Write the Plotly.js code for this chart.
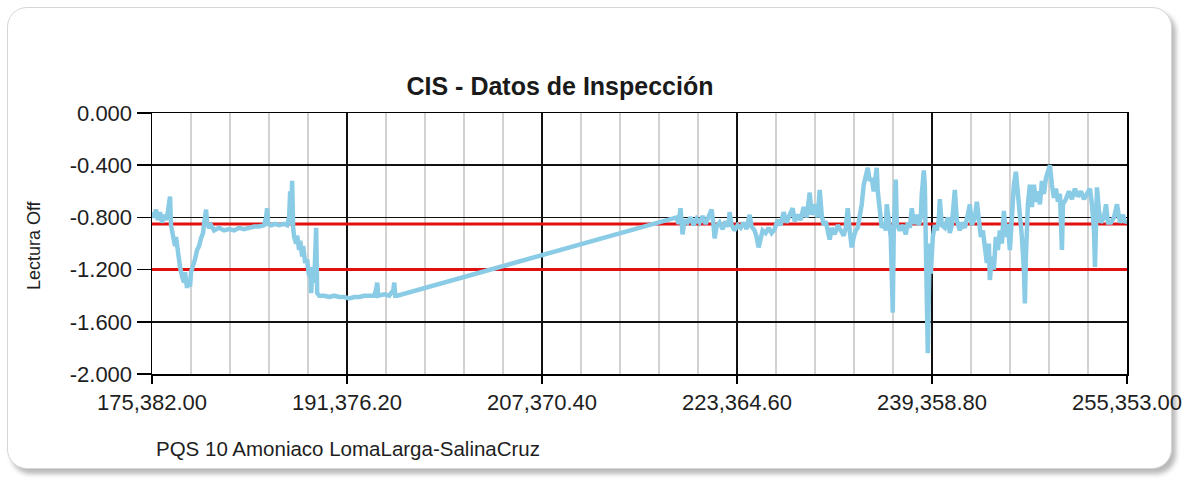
<!DOCTYPE html>
<html>
<head>
<meta charset="utf-8">
<script src="https://cdn.plot.ly/plotly-3.0.1.min.js"></script>
<style>
  html, body { margin: 0; padding: 0; background: #ffffff; }
  #frame {
    position: absolute; left: 7px; top: 7px; width: 1163px; height: 460px;
    border: 1px solid #d6d6d6; border-radius: 20px;
    box-shadow: 4px 5px 5px rgba(0,0,0,0.28);
    background: #ffffff;
  }
  #chart { position: absolute; left: 0; top: 0; width: 1193px; height: 482px; }
</style>
</head>
<body>
<div id="frame"></div>
<div id="chart"></div>
<script>
// ---- Data ----
const chartTitle = "CIS - Datos de Inspección";
const yAxisLabel = "Lectura Off";
const pipelineName = "PQS 10 Amoniaco LomaLarga-SalinaCruz";

const xTickVals = [175382.00, 191376.20, 207370.40, 223364.60, 239358.80, 255353.00];
const xTickText = ["175,382.00", "191,376.20", "207,370.40", "223,364.60", "239,358.80", "255,353.00"];
const yTickVals = [0, -0.4, -0.8, -1.2, -1.6, -2.0];
const yTickText = ["0.000", "-0.400", "-0.800", "-1.200", "-1.600", "-2.000"];

const criteriaLevels = [-0.85, -1.2];

const distance = [
  175382, 175546, 175710, 175875, 176039, 176203, 176367, 176531, 176696, 176860,
  176942, 177106, 177270, 177353, 177517, 177681, 177845, 178009, 178091, 178256,
  178338, 178502, 178584, 178748, 178913, 179077, 179241, 179405, 179569, 179652,
  179816, 179898, 180062, 180226, 180473, 180883, 181294, 181704, 182115, 182525,
  182936, 183346, 183757, 184167, 184578, 184742, 184824, 184906, 185153, 185481,
  185809, 186220, 186466, 186631, 186713, 186795, 186877, 186959, 187041, 187205,
  187287, 187452, 187534, 187698, 187780, 187944, 188108, 188191, 188273, 188355,
  188437, 188519, 188683, 188765, 188847, 188929, 189094, 189504, 189915, 190325,
  190736, 191146, 191557, 191967, 192378, 192788, 193199, 193610, 193774, 193856,
  193938, 194431, 194841, 195171, 195252, 195334, 195498,
  218406, 218570, 218734, 218898, 219062, 219309, 219555, 219801, 220048, 220294,
  220540, 220787, 221033, 221279, 221443, 221526, 221690, 221936, 222182, 222429,
  222675, 222757, 222921, 223168, 223414, 223660, 223907, 224153, 224399, 224563,
  224810, 224974, 225138, 225302, 225467, 225713, 225959, 226206, 226452, 226698,
  226945, 227191, 227437, 227684, 227930, 228094, 228340, 228587, 228833, 229079,
  229326, 229490, 229736, 229983, 230147, 230311, 230475, 230639, 230804, 230968,
  231132, 231378, 231625, 231871, 232117, 232282, 232446, 232610, 232774, 232938,
  233103, 233267, 233431, 233595, 233759, 233924, 234088, 234252, 234416, 234580,
  234745, 234827, 234909, 235073, 235237, 235402, 235566, 235648, 235812, 235976,
  236140, 236223, 236387, 236469, 236715, 236962, 237208, 237372, 237536, 237700,
  237865, 238111, 238275, 238439, 238522, 238686, 238768, 238850, 238932, 239014,
  239096, 239178, 239261, 239425, 239589, 239753, 239917, 239999, 240164, 240410,
  240656, 240821, 240985, 241231, 241395, 241642, 241806, 242052, 242298, 242463,
  242627, 242873, 243037, 243202, 243366, 243530, 243694, 243858, 244023, 244105,
  244269, 244433, 244597, 244762, 244926, 245090, 245254, 245418, 245583, 245747,
  245911, 246075, 246239, 246404, 246568, 246732, 246896, 246978, 247061, 247225,
  247389, 247553, 247717, 247882, 248046, 248210, 248374, 248538, 248703, 248867,
  249031, 249195, 249360, 249524, 249688, 249852, 250016, 250099, 250345, 250591,
  250837, 251084, 251330, 251576, 251823, 252069, 252315, 252480, 252644, 252726,
  252808, 252890, 253054, 253219, 253465, 253629, 253793, 254040, 254286, 254532,
  254779, 255025, 255189, 255353
];

const lecturaOff = [
  -0.76, -0.80, -0.74, -0.82, -0.76, -0.84, -0.78, -0.82, -0.75, -0.64,
  -0.86, -0.95, -1.02, -0.95, -1.10, -1.18, -1.25, -1.30, -1.22, -1.34,
  -1.28, -1.33, -1.22, -1.18, -1.12, -1.05, -1.02, -0.96, -0.92, -0.85,
  -0.74, -0.84, -0.88, -0.86, -0.90, -0.88, -0.90, -0.89, -0.90, -0.88,
  -0.89, -0.88, -0.87, -0.87, -0.86, -0.80, -0.73, -0.85, -0.86, -0.85,
  -0.86, -0.85, -0.86, -0.80, -0.60, -0.86, -0.52, -0.88, -0.95, -1.00,
  -0.94, -1.05, -0.98, -1.10, -1.02, -1.15, -1.12, -1.20, -1.25, -1.18,
  -1.38, -1.22, -1.30, -1.10, -0.88, -1.38, -1.40, -1.40, -1.41, -1.40,
  -1.41, -1.41, -1.42, -1.41, -1.41, -1.40, -1.40, -1.40, -1.35, -1.30,
  -1.40, -1.39, -1.40, -1.36, -1.30, -1.40, -1.40,
  -0.80, -0.85, -0.73, -0.93, -0.82, -0.84, -0.80, -0.86, -0.81, -0.84,
  -0.79, -0.85, -0.80, -0.74, -0.86, -0.96, -0.87, -0.84, -0.89, -0.83,
  -0.87, -0.76, -0.86, -0.90, -0.86, -0.88, -0.84, -0.89, -0.78, -0.87,
  -0.90, -0.95, -1.03, -0.96, -0.90, -0.92, -0.88, -0.92, -0.89, -0.82,
  -0.86, -0.76, -0.84, -0.78, -0.73, -0.83, -0.78, -0.82, -0.72, -0.80,
  -0.61, -0.78, -0.70, -0.80, -0.59, -0.78, -0.86, -0.83, -0.92, -0.97,
  -0.88, -0.93, -0.86, -0.90, -0.94, -0.88, -0.73, -0.90, -1.03, -0.95,
  -0.90, -0.88, -0.80, -0.70, -0.55, -0.48, -0.42, -0.52, -0.50, -0.60,
  -0.44, -0.42, -0.60, -0.75, -0.88, -0.84, -0.90, -0.70, -0.86, -0.95,
  -1.53, -0.90, -0.51, -0.85, -0.90, -0.86, -0.93, -0.84, -0.88, -0.73,
  -0.85, -0.78, -0.86, -0.80, -0.62, -0.44, -0.55, -0.90, -1.10, -1.84,
  -1.40, -1.00, -1.23, -0.95, -0.86, -0.90, -0.82, -0.66, -0.86, -0.88,
  -0.80, -0.92, -0.86, -0.59, -0.82, -0.90, -0.84, -0.88, -0.78, -0.70,
  -0.86, -0.80, -0.68, -0.85, -0.95, -0.90, -1.05, -1.15, -1.00, -1.28,
  -1.10, -1.20, -0.95, -1.05, -0.90, -1.00, -0.75, -0.95, -0.85, -1.05,
  -0.80, -0.55, -0.45, -0.60, -0.80, -0.95, -1.20, -1.46, -1.10, -0.70,
  -0.55, -0.72, -0.55, -0.68, -0.60, -0.70, -0.52, -0.62, -0.50, -0.45,
  -0.40, -0.55, -0.65, -0.58, -0.68, -0.62, -1.05, -0.70, -0.66, -0.60,
  -0.66, -0.58, -0.64, -0.60, -0.66, -0.62, -0.58, -0.70, -0.90, -1.18,
  -0.80, -0.57, -0.75, -0.84, -0.80, -0.70, -0.84, -0.84, -0.80, -0.70,
  -0.84, -0.78, -0.84, -0.82
];

// ---- Chart ----
const FONT = "Liberation Sans, Arial, Helvetica, sans-serif";
const xStart = xTickVals[0], xEnd = xTickVals[xTickVals.length - 1];

const traces = criteriaLevels.map(v => ({
  type: "scatter", mode: "lines",
  x: [xStart, xEnd], y: [v, v],
  line: { color: "#e01010", width: 3 },
  hoverinfo: "skip", showlegend: false
}));
traces.push({
  type: "scatter", mode: "lines",
  x: distance, y: lecturaOff,
  line: { color: "#8acbe6", width: 4.5 },
  showlegend: false
});

const layout = {
  width: 1193, height: 482,
  margin: { l: 152, r: 66, t: 113, b: 108, pad: 0 },
  paper_bgcolor: "rgba(0,0,0,0)",
  plot_bgcolor: "#ffffff",
  font: { family: FONT, color: "#1e1e1e" },
  showlegend: false,
  title: {
    text: chartTitle,
    font: { family: FONT, size: 25, weight: "bold", color: "#1a1a1a" },
    xref: "container", yref: "container",
    x: 0.4694, xanchor: "center",
    y: 0.822, yanchor: "middle"
  },
  xaxis: {
    range: [xStart, xEnd],
    tickmode: "array", tickvals: xTickVals, ticktext: xTickText,
    ticks: "outside", ticklen: 8, tickwidth: 1.5, tickcolor: "#000",
    tickfont: { family: FONT, size: 22, color: "#1e1e1e" },
    showgrid: true, gridcolor: "#111", gridwidth: 1.5,
    minor: { dtick: (xTickVals[1] - xTickVals[0]) / 5, tick0: xStart, showgrid: true, gridcolor: "#d2d2d2", gridwidth: 1.2, ticks: "" },
    showline: true, linecolor: "#000", linewidth: 1.5, mirror: true,
    zeroline: false, fixedrange: true
  },
  yaxis: {
    range: [-2, 0],
    tickmode: "array", tickvals: yTickVals, ticktext: yTickText,
    ticks: "outside", ticklen: 14, tickwidth: 1.5, tickcolor: "#000",
    tickfont: { family: FONT, size: 22, color: "#1e1e1e" },
    showgrid: true, gridcolor: "#111", gridwidth: 1.5,
    showline: true, linecolor: "#000", linewidth: 1.5, mirror: true,
    zeroline: false, fixedrange: true
  },
  annotations: [
    {
      text: yAxisLabel, textangle: -90,
      xref: "paper", yref: "paper", x: -0.121, y: 0.494,
      xanchor: "center", yanchor: "middle", showarrow: false,
      font: { family: FONT, size: 18, color: "#1e1e1e" }
    },
    {
      text: pipelineName,
      xref: "paper", yref: "paper", x: 0.002, y: -0.285,
      xanchor: "left", yanchor: "middle", showarrow: false,
      font: { family: FONT, size: 20.5, color: "#1e1e1e" }
    }
  ]
};

Plotly.newPlot("chart", traces, layout, { staticPlot: true, displayModeBar: false });
</script>
</body>
</html>
